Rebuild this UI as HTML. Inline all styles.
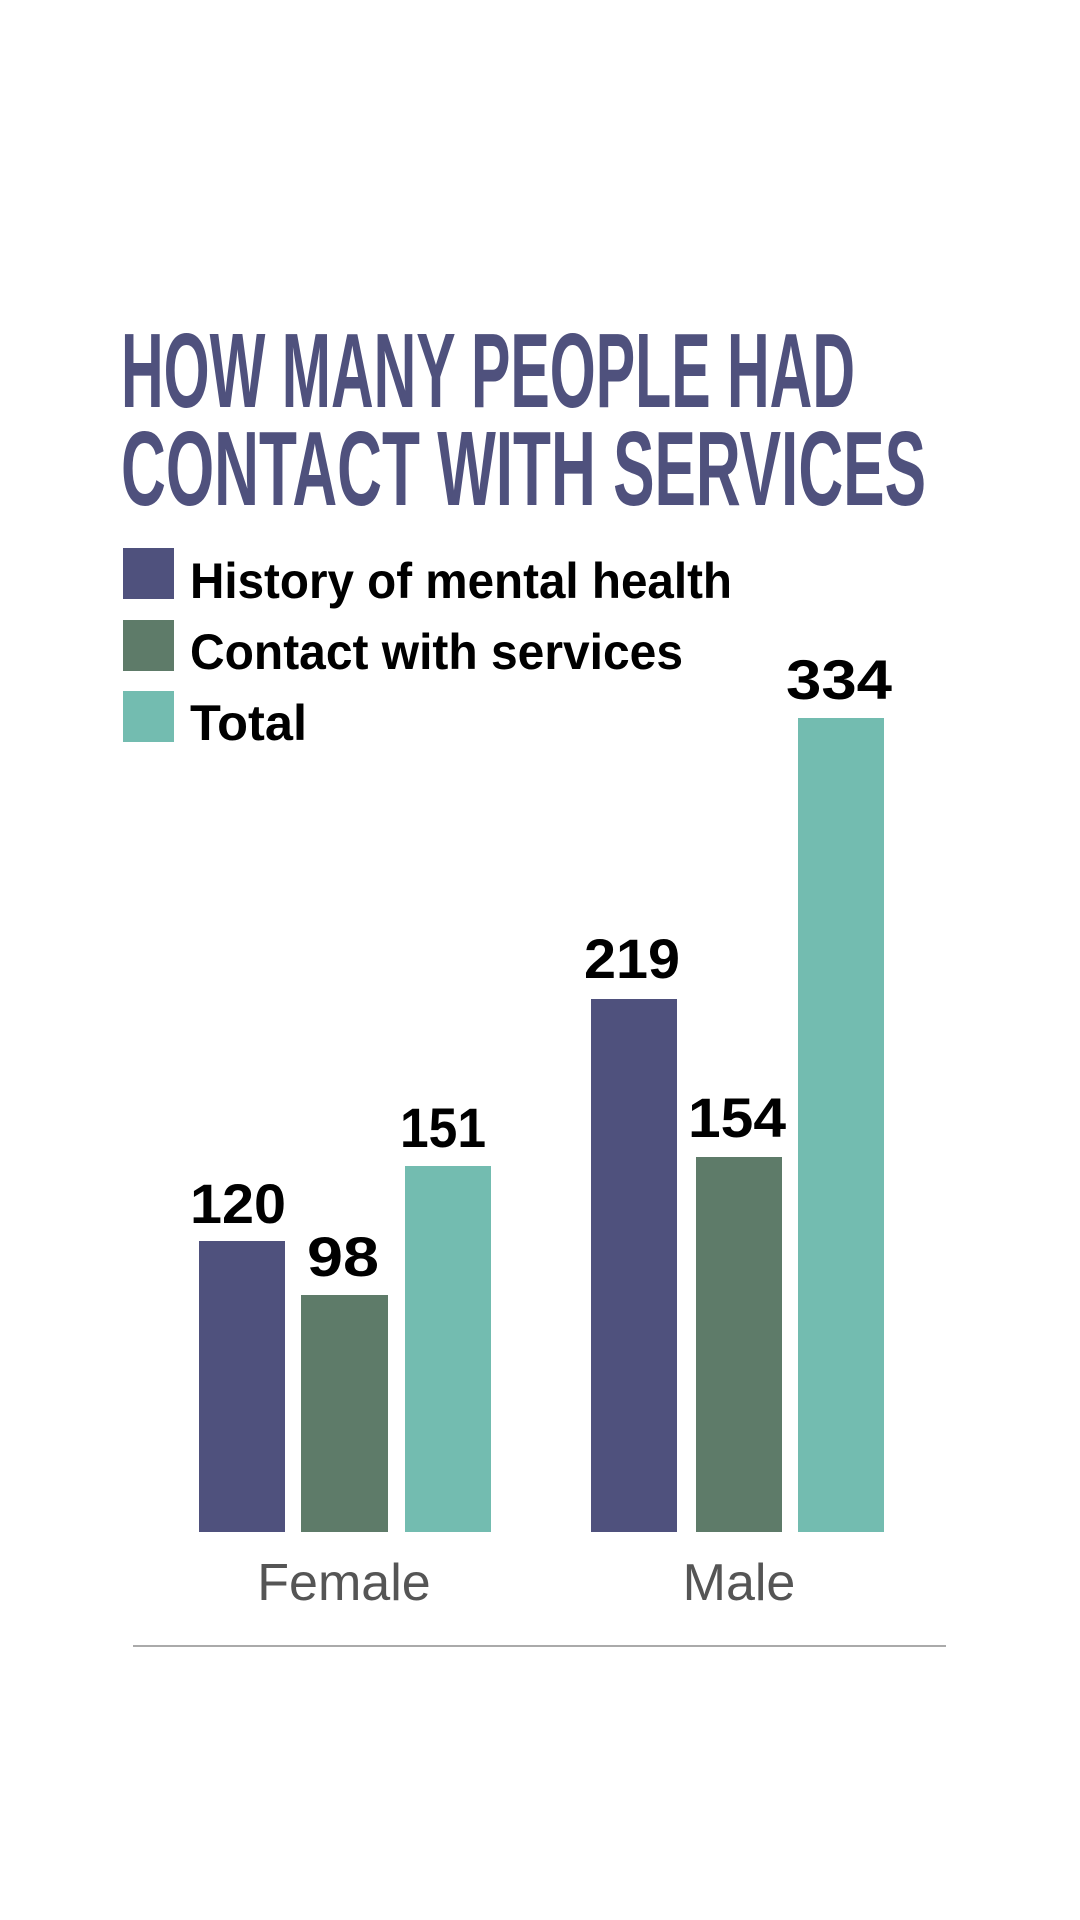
<!DOCTYPE html>
<html><head><meta charset="utf-8"><style>
html,body{margin:0;padding:0;background:#fff;}
svg{display:block;}
</style></head><body>
<svg width="1080" height="1920" viewBox="0 0 1080 1920" xmlns="http://www.w3.org/2000/svg">
<rect width="1080" height="1920" fill="#fff"/>
<g font-family="'Liberation Sans Narrow','Liberation Sans',sans-serif" font-weight="bold" fill="#4f517d" font-size="106">
<text x="121" y="407" textLength="734" lengthAdjust="spacingAndGlyphs">HOW MANY PEOPLE HAD</text>
<text x="121" y="505" textLength="805" lengthAdjust="spacingAndGlyphs">CONTACT WITH SERVICES</text>
</g>
<rect x="123" y="548" width="51" height="51" fill="#4f517d"/>
<rect x="123" y="620" width="51" height="51" fill="#5e7b69"/>
<rect x="123" y="691" width="51" height="51" fill="#73bcb0"/>
<g font-family="'Liberation Sans',sans-serif" font-weight="bold" fill="#000" font-size="50">
<text x="190" y="598" textLength="542" lengthAdjust="spacingAndGlyphs">History of mental health</text>
<text x="190" y="669" textLength="493" lengthAdjust="spacingAndGlyphs">Contact with services</text>
<text x="190" y="740" textLength="117" lengthAdjust="spacingAndGlyphs">Total</text>
</g>
<rect x="199" y="1241" width="86" height="291" fill="#4f517d"/>
<rect x="301" y="1295" width="87" height="237" fill="#5e7b69"/>
<rect x="405" y="1166" width="86" height="366" fill="#73bcb0"/>
<rect x="591" y="999" width="86" height="533" fill="#4f517d"/>
<rect x="696" y="1157" width="86" height="375" fill="#5e7b69"/>
<rect x="798" y="718" width="86" height="814" fill="#73bcb0"/>
<g font-family="'Liberation Sans',sans-serif" font-weight="bold" fill="#000" font-size="56" text-anchor="middle">
<text x="238" y="1223" textLength="96" lengthAdjust="spacingAndGlyphs">120</text>
<text x="343" y="1276" textLength="72" lengthAdjust="spacingAndGlyphs">98</text>
<text x="443" y="1147" textLength="86" lengthAdjust="spacingAndGlyphs">151</text>
<text x="632" y="978" textLength="96" lengthAdjust="spacingAndGlyphs">219</text>
<text x="737" y="1137" textLength="98" lengthAdjust="spacingAndGlyphs">154</text>
<text x="839" y="699" textLength="106" lengthAdjust="spacingAndGlyphs">334</text>
</g>
<g font-family="'Liberation Sans',sans-serif" fill="#555" font-size="52" text-anchor="middle">
<text x="344" y="1600">Female</text>
<text x="739" y="1600">Male</text>
</g>
<rect x="133" y="1645" width="813" height="2" fill="#aaa"/>
</svg>
</body></html>
